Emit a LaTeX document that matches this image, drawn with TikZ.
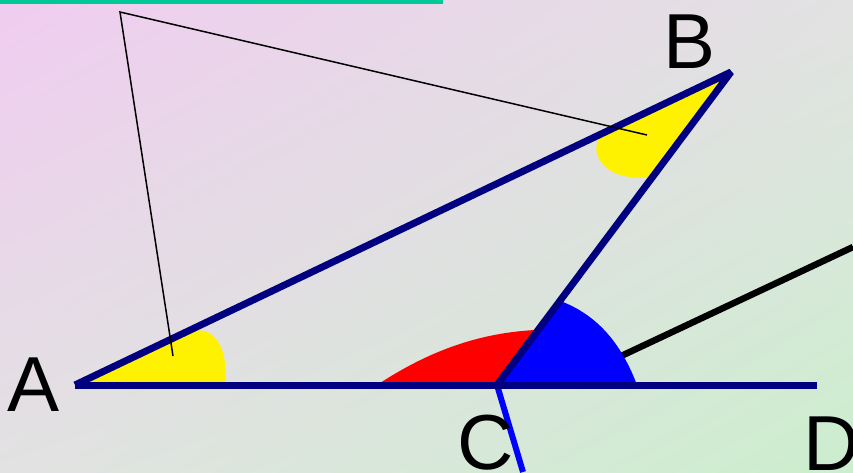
\documentclass[tikz,border=0pt]{standalone}
\usepackage{fontspec}
\setmainfont{Liberation Sans}
\usetikzlibrary{shadings}
\definecolor{navy}{RGB}{0,0,128}
\definecolor{teal1}{RGB}{0,200,150}
\definecolor{bgpink}{RGB}{240,204,240}
\definecolor{bggreen}{RGB}{204,238,206}
\definecolor{bgmid}{RGB}{226,226,226}
\tikzset{
  side/.style={draw=navy, line width=7pt},
  thinline/.style={draw=black, line width=1.5pt},
  lbl/.style={inner sep=0pt, anchor=base, font=\fontsize{78}{80}\selectfont},
}
\begin{document}
\begin{tikzpicture}[x=1pt,y=-1pt]
\useasboundingbox (0,0) rectangle (853,472);
\shade[upper left=bgpink, lower right=bggreen, upper right=bgmid, lower left=bgmid] (0,0) rectangle (853,472);
\fill[teal1] (0,0) rectangle (443,4);
\coordinate (A) at (75,385);
\coordinate (B) at (731,72);
\coordinate (C) at (497,385);
\coordinate (D) at (817,385);
\coordinate (P) at (120,12);
\coordinate (Pa) at (173,356);
\coordinate (Pb) at (647,135);
\coordinate (E0) at (585,373);
\coordinate (E1) at (853,247);
\coordinate (F) at (523,472);
% yellow angle at A
\fill[yellow] (A) -- (193,331) .. controls (215,326) and (229,350) .. (225,385) -- cycle;
% yellow angle at B
\fill[yellow] (B) -- (600,135) .. controls (588,155) and (605,182) .. (650,177) -- cycle;
% red angle at C
\fill[red] (C) -- (377,385) .. controls (430,350) and (480,333) .. (535,330) -- cycle;
% black line
\draw[black, line width=6.5pt] (E0) -- (E1);
% blue angle at C
\fill[blue] (C) -- (637,385) .. controls (620,340) and (595,315) .. (563,302) -- cycle;
% blue line from C
\draw[blue, line width=6pt] (C) -- (F);
% triangle
\draw[side, line join=bevel] (A) -- (B) -- (C);
\draw[side] (A) -- (D);
% thin lines
\draw[thinline, line join=miter] (Pa) -- (P) -- (Pb);
% labels
\node[lbl] (LA) at (34,411) {A};
\node[lbl] (LB) at (690,68) {B};
\node[lbl] (LC) at (486,469) {C};
\node[lbl] (LD) at (832,470) {D};
\end{tikzpicture}
\end{document}
